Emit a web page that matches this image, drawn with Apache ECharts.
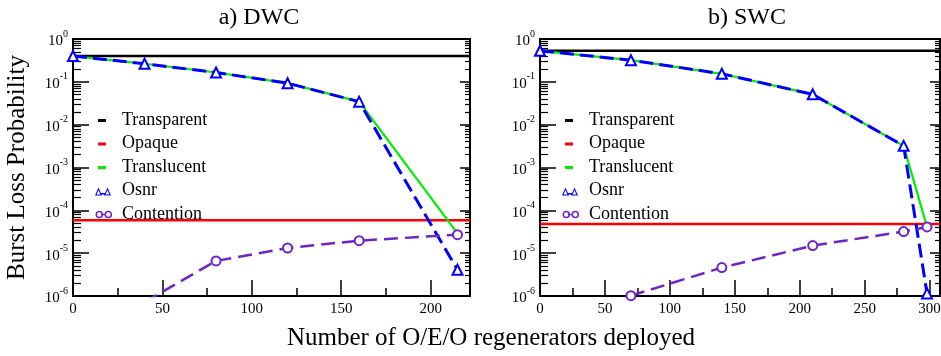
<!DOCTYPE html>
<html>
<head>
<meta charset="utf-8">
<script src="https://cdn.jsdelivr.net/npm/echarts@6/dist/echarts.min.js"></script>
<style>html,body{margin:0;padding:0;background:#fff;}#c{width:941px;height:356px;}</style>
</head>
<body>
<div id="c"></div>
<script>
// ---------- data ----------
const seriesNames = ['Transparent', 'Opaque', 'Translucent', 'Osnr', 'Contention'];
const panelTitles = ['a) DWC', 'b) SWC'];
const xAxisName = 'Number of O/E/O regenerators deployed';
const yAxisName = 'Burst Loss Probability';

const xTicksDWC = [0, 50, 100, 150, 200];
const xMinorDWC = [25, 75, 125, 175];
const xMaxDWC = 222;
const xTicksSWC = [0, 50, 100, 150, 200, 250, 300];
const xMinorSWC = [25, 75, 125, 175, 225, 275];
const xMaxSWC = 308;
const yTicks = [1e-6, 1e-5, 1e-4, 1e-3, 1e-2, 1e-1, 1];

// DWC
const transparentDWC = 0.40;
const opaqueDWC = 5.9e-5;
const regenXDWC = [0, 40, 80, 120, 160, 215];
const translucentDWC = [0.40, 0.264, 0.165, 0.093, 0.0345, 2.9e-5];
const osnrDWC = [0.40, 0.264, 0.165, 0.093, 0.0345, 4.1e-6];
const contentionXDWC = [40, 80, 120, 160, 215];
const contentionDWC = [7.2e-7, 6.6e-6, 1.32e-5, 1.96e-5, 2.7e-5];

// SWC
const transparentSWC = 0.53;
const opaqueSWC = 4.8e-5;
const regenXSWC = [0, 70, 140, 210, 280, 298];
const translucentSWC = [0.53, 0.32, 0.154, 0.051, 0.0032, 4.1e-5];
const osnrSWC = [0.53, 0.32, 0.154, 0.051, 0.0032, 1.15e-6];
const contentionXSWC = [70, 140, 210, 280, 298];
const contentionSWC = [1.02e-6, 4.6e-6, 1.5e-5, 3.2e-5, 4.1e-5];

// ---------- build ----------
const FONT = 'Liberation Serif';
const COLORS = { Transparent: '#000000', Opaque: '#ff0000', Translucent: '#00ee00', Osnr: '#0000ff', Contention: '#7024c8' };

const yMinor = [];
for (let e = -6; e < 0; e++) for (let m = 2; m <= 9; m++) yMinor.push(+(m * Math.pow(10, e)).toPrecision(3));

const zip = (xs, ys) => xs.map((x, i) => [x, ys[i]]);

const panels = [
  { left: 73, width: 397, xTicks: xTicksDWC, xMinor: xMinorDWC, xMax: xMaxDWC, title: panelTitles[0], titleX: 259,
    transparent: transparentDWC, opaque: opaqueDWC, rx: regenXDWC, translucent: translucentDWC, osnr: osnrDWC,
    cx: contentionXDWC, contention: contentionDWC },
  { left: 540, width: 400, xTicks: xTicksSWC, xMinor: xMinorSWC, xMax: xMaxSWC, title: panelTitles[1], titleX: 747,
    transparent: transparentSWC, opaque: opaqueSWC, rx: regenXSWC, translucent: translucentSWC, osnr: osnrSWC,
    cx: contentionXSWC, contention: contentionSWC }
];

const grid = [], xAxis = [], yAxis = [], series = [], legend = [], title = [];

const icons = {
  Transparent: 'path://M0,0 M22,12 M3,5 L11,5 L11,8 L3,8 Z',
  Opaque: 'path://M0,0 M22,12 M3,5 L11,5 L11,8 L3,8 Z',
  Translucent: 'path://M0,0 M22,12 M3,5 L11,5 L11,8 L3,8 Z',
  Osnr: 'path://M0,0 M22,12 M0,11 L3.5,3 L7,11 Z M1.6,10 L5.4,10 L3.5,5.6 Z M9,11 L12.5,3 L16,11 Z M10.6,10 L14.4,10 L12.5,5.6 Z M6,8.5 L10,8.5 L10,10 L6,10 Z',
  Contention: 'path://M0,0 M22,12 M0.5,6.5 A3.8,3.8 0 1,1 8.1,6.5 A3.8,3.8 0 1,1 0.5,6.5 Z M2,6.5 A2.3,2.3 0 1,0 6.6,6.5 A2.3,2.3 0 1,0 2,6.5 Z M9.5,6.5 A3.8,3.8 0 1,1 17.1,6.5 A3.8,3.8 0 1,1 9.5,6.5 Z M11,6.5 A2.3,2.3 0 1,0 15.6,6.5 A2.3,2.3 0 1,0 11,6.5 Z M6,5.8 L11,5.8 L11,7.2 L6,7.2 Z'
};

panels.forEach((p, g) => {
  grid.push({ left: p.left, top: 39, width: p.width, height: 257, show: true, borderColor: '#000', borderWidth: 2,
              backgroundColor: 'transparent', containLabel: false, outerBoundsMode: 'none' });
  // x major
  xAxis.push({ type: 'value', gridIndex: g, min: 0, max: p.xMax, position: 'bottom',
    axisLine: { show: true, onZero: false, lineStyle: { color: '#000', width: 2 } },
    axisTick: { show: true, inside: true, length: 16, customValues: p.xTicks, lineStyle: { color: '#000', width: 1.5 } },
    axisLabel: { show: true, customValues: p.xTicks, margin: 6, fontFamily: FONT, fontSize: 15, color: '#000',
                 showMinLabel: true, showMaxLabel: true },
    splitLine: { show: false } });
  // x minor
  xAxis.push({ type: 'value', gridIndex: g, min: 0, max: p.xMax, position: 'bottom',
    axisLine: { show: false, onZero: false },
    axisTick: { show: true, inside: true, length: 8, customValues: p.xMinor, lineStyle: { color: '#000', width: 1.5 } },
    axisLabel: { show: false }, splitLine: { show: false } });

  const yBase = { type: 'log', logBase: 10, gridIndex: g, min: 1e-6, max: 1, splitLine: { show: false } };
  // y left major
  yAxis.push(Object.assign({}, yBase, { position: 'left',
    axisLine: { show: true, onZero: false, lineStyle: { color: '#000', width: 2 } },
    axisTick: { show: true, inside: true, length: 16, customValues: yTicks, lineStyle: { color: '#000', width: 1.5 } },
    axisLabel: { show: true, customValues: yTicks, margin: 5,
      formatter: v => '{b|10}{s|' + Math.round(Math.log10(v)) + '}',
      rich: { b: { fontFamily: FONT, fontSize: 15, color: '#000', verticalAlign: 'bottom', lineHeight: 20, padding: [6, 0, 0, 0] },
              s: { fontFamily: FONT, fontSize: 10, color: '#000', verticalAlign: 'top' } } },
    name: g === 0 ? yAxisName : '', nameLocation: 'middle', nameGap: 43,
    nameTextStyle: { fontFamily: FONT, fontSize: 25, color: '#000' } }));
  // y left minor
  yAxis.push(Object.assign({}, yBase, { position: 'left', axisLine: { show: false, onZero: false },
    axisTick: { show: true, inside: true, length: 8, customValues: yMinor, lineStyle: { color: '#000', width: 1.2 } },
    axisLabel: { show: false } }));
  // y right major
  yAxis.push(Object.assign({}, yBase, { position: 'right',
    axisLine: { show: true, onZero: false, lineStyle: { color: '#000', width: 2 } },
    axisTick: { show: true, inside: true, length: 10, customValues: yTicks, lineStyle: { color: '#000', width: 1.5 } },
    axisLabel: { show: false } }));
  // y right minor
  yAxis.push(Object.assign({}, yBase, { position: 'right', axisLine: { show: false, onZero: false },
    axisTick: { show: true, inside: true, length: 5, customValues: yMinor, lineStyle: { color: '#000', width: 1.2 } },
    axisLabel: { show: false } }));

  const xi = g * 2, yi = g * 4;
  const common = { xAxisIndex: xi, yAxisIndex: yi, type: 'line', clip: true, animation: false };
  series.push(Object.assign({}, common, { name: 'Transparent', data: [[0, p.transparent], [p.xMax, p.transparent]],
    showSymbol: false, symbol: 'none', lineStyle: { color: COLORS.Transparent, width: 2.5 }, itemStyle: { color: COLORS.Transparent } }));
  series.push(Object.assign({}, common, { name: 'Opaque', data: [[0, p.opaque], [p.xMax, p.opaque]],
    showSymbol: false, symbol: 'none', lineStyle: { color: COLORS.Opaque, width: 2.5 }, itemStyle: { color: COLORS.Opaque } }));
  series.push(Object.assign({}, common, { name: 'Translucent', data: zip(p.rx, p.translucent),
    showSymbol: false, symbol: 'none', lineStyle: { color: COLORS.Translucent, width: 2.2 }, itemStyle: { color: COLORS.Translucent } }));
  series.push(Object.assign({}, common, { name: 'Osnr', data: zip(p.rx, p.osnr),
    symbol: 'emptyTriangle', symbolSize: 10, showSymbol: true,
    lineStyle: { color: COLORS.Osnr, width: 3, type: [14, 6] },
    itemStyle: { color: COLORS.Osnr, borderColor: COLORS.Osnr, borderWidth: 1.5 } }));
  series.push(Object.assign({}, common, { name: 'Contention', data: zip(p.cx, p.contention),
    symbol: 'emptyCircle', symbolSize: 9, showSymbol: true,
    lineStyle: { color: COLORS.Contention, width: 2.5, type: [14, 7] },
    itemStyle: { color: COLORS.Contention, borderColor: COLORS.Contention, borderWidth: 1.5 } }));

  legend.push({ orient: 'vertical', left: p.left + 22, top: 111, itemWidth: 22, itemHeight: 12, itemGap: 5.5,
    selectedMode: false, padding: 0,
    itemStyle: { borderWidth: 0 },
    textStyle: { fontFamily: FONT, fontSize: 18, color: '#000' },
    data: seriesNames.map(n => ({ name: n, icon: icons[n], itemStyle: { color: COLORS[n], borderWidth: 0 } })) });

  title.push({ text: p.title, left: p.titleX - 5, top: 1, textAlign: 'center',
    textStyle: { fontFamily: FONT, fontSize: 24, fontWeight: 'normal', color: '#000' } });
});

title.push({ text: xAxisName, left: 486, top: 321, textAlign: 'center',
  textStyle: { fontFamily: FONT, fontSize: 25, fontWeight: 'normal', color: '#000' } });

const chart = echarts.init(document.getElementById('c'), null, { renderer: 'canvas' });
chart.setOption({ animation: false, backgroundColor: '#fff', title, grid, xAxis, yAxis, series, legend });
</script>
</body>
</html>
